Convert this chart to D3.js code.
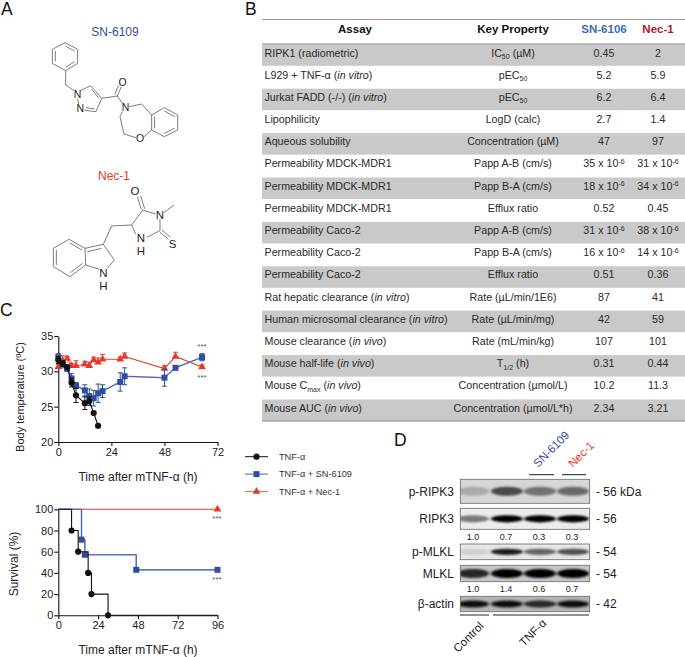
<!DOCTYPE html>
<html>
<head>
<meta charset="utf-8">
<script src="https://cdn.jsdelivr.net/npm/d3@7"></script>
<style>
  html, body { margin: 0; padding: 0; background: #fff; }
  svg { display: block; }
  text { font-family: "Liberation Sans", Arial, sans-serif; }
  .axis path, .axis line { stroke: #111; stroke-width: 1.1px; }
  .axis text { font-size: 11px; fill: #222; font-family: "Liberation Sans", Arial, sans-serif; }
</style>
</head>
<body>
<div id="chart"></div>
<script>
// table
const tableColumns = ["Assay", "Key Property", "SN-6106", "Nec-1"];
const assays = [
  "RIPK1 (radiometric)", "L929 + TNF-α (<i>in vitro</i>)", "Jurkat FADD (-/-) (<i>in vitro</i>)",
  "Lipophilicity", "Aqueous solubility", "Permeability MDCK-MDR1", "Permeability MDCK-MDR1",
  "Permeability MDCK-MDR1", "Permeability Caco-2", "Permeability Caco-2", "Permeability Caco-2",
  "Rat hepatic clearance (<i>in vitro</i>)", "Human microsomal clearance (<i>in vitro</i>)",
  "Mouse clearance (<i>in vivo</i>)", "Mouse half-life (<i>in vivo</i>)",
  "Mouse C<sub>max</sub> (<i>in vivo</i>)", "Mouse AUC (<i>in vivo</i>)"
];
const keyProperties = [
  "IC<sub>50</sub> (µM)", "pEC<sub>50</sub>", "pEC<sub>50</sub>", "LogD (calc)", "Concentration (µM)",
  "Papp A-B (cm/s)", "Papp B-A (cm/s)", "Efflux ratio", "Papp A-B (cm/s)", "Papp B-A (cm/s)", "Efflux ratio",
  "Rate (µL/min/1E6)", "Rate (µL/min/mg)", "Rate (mL/min/kg)", "T<sub>1/2</sub> (h)",
  "Concentration (µmol/L)", "Concentration (µmol/L*h)"
];
const sn6106Values = [
  "0.45", "5.2", "6.2", "2.7", "47", "35 x 10<sup>-6</sup>", "18 x 10<sup>-6</sup>", "0.52",
  "31 x 10<sup>-6</sup>", "16 x 10<sup>-6</sup>", "0.51", "87", "42", "107", "0.31", "10.2", "2.34"
];
const nec1Values = [
  "2", "5.9", "6.4", "1.4", "97", "31 x 10<sup>-6</sup>", "34 x 10<sup>-6</sup>", "0.45",
  "38 x 10<sup>-6</sup>", "14 x 10<sup>-6</sup>", "0.36", "41", "59", "101", "0.44", "11.3", "3.21"
];

// body temperature
const tempTimesTnf = [0, 2, 4, 6, 8, 12, 14, 16, 18];
const tempTnf = [31.6, 31.1, 30.6, 28.4, 26.6, 25.5, 25.8, 24.1, 22.3];
const tempTnfErr = [0.5, 0.4, 0.3, 0.6, 1.0, 0.9, 0.6, 0.2, 0.2];
const tempTimes = [0, 2, 4, 6, 8, 12, 14, 16, 18, 20, 28, 30, 48, 53, 65];
const tempSn = [32, 31, 30.4, 29, 28, 27.3, 26.5, 26.2, 26.9, 27.2, 28.5, 29.3, 29.1, 30.5, 32];
const tempSnErr = [0.5, 0.5, 0.4, 0.7, 0.4, 0.8, 1, 1.1, 1.3, 0.9, 1.3, 1.2, 1.2, 0.3, 0.5];
const tempNec = [30.6, 31.5, 31.8, 30.8, 30.8, 31, 30.8, 31.6, 31.3, 31.7, 31.7, 32.1, 30.4, 32.1, 30.6];
const tempNecErr = [0.4, 0.7, 0.3, 0.3, 0.7, 0.4, 0.5, 0.4, 0.6, 0.7, 0.3, 0.5, 0.4, 0.6, 0.3];

// survival
const survTimesTnf = [0, 8, 12, 18, 20, 30, 96];
const survTnf = [100, 80, 60, 40, 20, 0, 0];
const survTimesSn = [0, 14, 16, 47, 96];
const survSn = [100, 71.4, 57.1, 42.9, 42.9];
const survTimesNec = [0, 96];
const survNec = [100, 100];

// western blot
const blotRows = ["p-RIPK3", "RIPK3", "p-MLKL", "MLKL", "β-actin"];
const blotSizes = ["- 56 kDa", "- 56", "- 54", "- 54", "- 42"];
const blotPRipk3 = [0.22, 0.68, 0.5, 0.52];
const blotRipk3 = [0.45, 1, 1, 1];
const blotPMlkl = [0.04, 0.9, 0.55, 0.65];
const blotMlkl = [0.85, 1, 1, 1];
const blotActin = [0.95, 0.95, 0.85, 0.95];
const ripk3Ratios = ["1.0", "0.7", "0.3", "0.3"];
const mlklRatios = ["1.0", "1.4", "0.6", "0.7"];

// molecule drawings, bonds as [x1, y1, x2, y2] on a 3x grid of the panel
const sn6109Bonds = [
  [195,128,233,148],[233,148,233,190],[233,190,197,212],[197,212,157,190],[157,190,157,148],[157,148,195,128],
  [196,138,224,153],[224,185,197,202],[166,153,166,184],
  [197,212,197,255],[197,255,222,272],[241,272,272,257],[272,257,305,295],[275,268,297,295],[305,295,288,335],
  [288,335,254,331],[284,327,258,323],[233,296,236,312],
  [305,295,352,288],[352,288,364,260],[344,284,356,256],[352,288,368,311],
  [388,320,425,312],[425,312,455,345],[367,335,360,350],[360,350,372,402],[372,402,408,413],[432,410,455,390],
  [455,345,493,323],[493,323,533,345],[533,345,533,390],[533,390,493,410],[493,410,455,390],[455,390,455,345],
  [493,333,524,350],[524,385,493,400],[464,385,464,350]
];
const sn6109Atoms = [[233,284,"N"],[241,326,"N"],[368,247,"O"],[377,322,"N"],[420,415,"O"]];
const nec1Bonds = [
  [424,628,412,590],[434,626,422,588],[428,630,466,642],[428,630,395,675],[480,657,480,692],[480,692,440,712],
  [407,702,395,675],[492,638,522,615],[480,697,505,718],[486,690,510,711],
  [395,675,335,678],[335,678,310,733],
  [207,718,255,745],[255,745,257,795],[257,795,210,830],[210,830,160,800],[160,800,160,745],[160,745,207,718],
  [210,729,246,750],[248,790,211,818],[169,795,169,750],
  [255,745,310,733],[262,755,305,745],[310,733,343,780],[343,780,322,805],[298,808,257,795]
];
const nec1Atoms = [[405,572,"O"],[480,645,"N"],[518,733,"S"],[423,713,"N"],[423,753,"H"],[310,818,"N"],[310,858,"H"]];

const black = "#111", blue = "#2f4da3", red = "#e5392a", blueLight = "#8d9ed6", redLine = "#ee6a5c";

const width = 685, height = 657;
const svg = d3.select("#chart").append("svg").attr("width", width).attr("height", height);

// parse the small <i>/<sub>/<sup> markup into tspans
function richText(sel, str) {
  var parts = str.split(/(<\/?(?:i|sub|sup)>)/);
  var mode = null, pending = 0;
  parts.forEach(function (p) {
    if (p === "<i>") mode = "i";
    else if (p === "<sub>") mode = "sub";
    else if (p === "<sup>") mode = "sup";
    else if (p.indexOf("</") === 0) mode = null;
    else if (p) {
      var t = sel.append("tspan").text(p);
      var dy = pending;
      pending = 0;
      if (mode === "i") t.style("font-style", "italic");
      if (mode === "sub") { t.style("font-size", "7px"); dy += 2.5; pending = -2.5; }
      if (mode === "sup") { t.style("font-size", "7px"); dy += -3.5; pending = 3.5; }
      if (dy) t.attr("dy", dy);
    }
  });
}

// panel letters
[["A", 1, 15], ["B", 245, 15], ["C", 0, 316], ["D", 394, 446]].forEach(function (d) {
  svg.append("text").attr("x", d[1]).attr("y", d[2]).style("font-size", "17.5px").attr("fill", "#111").text(d[0]);
});

// ---- A: structures
const molX = d3.scaleLinear().domain([0, 3]).range([0, 1]);
function molecule(bonds, atoms, atomSize) {
  var g = svg.append("g");
  g.selectAll("line").data(bonds).enter().append("line")
    .attr("x1", d => molX(d[0])).attr("y1", d => molX(d[1]))
    .attr("x2", d => molX(d[2])).attr("y2", d => molX(d[3]))
    .attr("stroke", "#444").attr("stroke-width", 0.7);
  g.selectAll("text").data(atoms).enter().append("text")
    .attr("x", d => molX(d[0])).attr("y", d => molX(d[1])).attr("dy", "0.36em")
    .attr("text-anchor", "middle").style("font-size", atomSize).attr("fill", "#222")
    .text(d => d[2]);
}
molecule(sn6109Bonds, sn6109Atoms, "10.5px");
molecule(nec1Bonds, nec1Atoms, "11.5px");
svg.append("text").attr("x", 115).attr("y", 36).attr("text-anchor", "middle")
  .style("font-size", "12px").attr("fill", blue).text("SN-6109");
svg.append("text").attr("x", 114).attr("y", 180).attr("text-anchor", "middle")
  .style("font-size", "12px").attr("fill", red).text("Nec-1");

// ---- B: table
const rowY = d3.scaleBand().domain(d3.range(assays.length)).range([44.3, 421]).paddingInner(0.03);
const table = svg.append("g");
table.selectAll("rect").data(d3.range(assays.length).filter(i => i % 2 === 0)).enter().append("rect")
  .attr("x", 262).attr("width", 423).attr("y", d => rowY(d)).attr("height", rowY.bandwidth())
  .attr("fill", "#c9c9c9");
[[19.5, "#999"], [44, "#888"], [421, "#888"]].forEach(function (d) {
  table.append("line").attr("x1", 262).attr("x2", 685).attr("y1", d[0]).attr("y2", d[0])
    .attr("stroke", d[1]).attr("stroke-width", 1);
});
const headerX = [355, 513, 604, 658];
const headerFill = ["#111", "#111", "#3f6cb5", "#b5162b"];
tableColumns.forEach(function (c, i) {
  table.append("text").attr("x", headerX[i]).attr("y", 33).attr("text-anchor", "middle")
    .style("font-size", "11.5px").style("font-weight", "bold").attr("fill", headerFill[i]).text(c);
});
function tableColumn(values, x, anchor) {
  values.forEach(function (v, i) {
    var t = table.append("text").attr("x", x).attr("y", rowY(i) + 12.2).attr("text-anchor", anchor)
      .style("font-size", "10.7px").attr("fill", "#2a2a2a");
    richText(t, v);
  });
}
tableColumn(assays, 264.5, "start");
tableColumn(keyProperties, 513, "middle");
tableColumn(sn6106Values, 604, "middle");
tableColumn(nec1Values, 658, "middle");

// ---- C: line charts
const tempX = d3.scaleLinear().domain([0, 72]).range([58.3, 217.5]);
const tempY = d3.scaleLinear().domain([20, 35]).range([442, 336]);
const survX = d3.scaleLinear().domain([0, 96]).range([58.3, 217.5]);
const survY = d3.scaleLinear().domain([0, 100]).range([615.3, 509.3]);

function axes(x, y, xTicks, yTicks) {
  svg.append("g").attr("class", "axis").attr("transform", "translate(0," + y.range()[0] + ")")
    .call(d3.axisBottom(x).tickValues(xTicks).tickSize(4).tickSizeOuter(0).tickPadding(2));
  svg.append("g").attr("class", "axis").attr("transform", "translate(" + x.range()[0] + ",0)")
    .call(d3.axisLeft(y).tickValues(yTicks).tickSize(4).tickSizeOuter(0).tickPadding(1));
}
axes(tempX, tempY, [0, 24, 48, 72], [20, 25, 30, 35]);
axes(survX, survY, [0, 24, 48, 72, 96], [0, 20, 40, 60, 80, 100]);

function marker(sel, kind, color) {
  var sym = kind === "circle" ? d3.symbolCircle : kind === "square" ? d3.symbolSquare : d3.symbolTriangle;
  var size = kind === "circle" ? 30 : kind === "square" ? 36 : 26;
  sel.attr("d", d3.symbol().type(sym).size(size)).attr("fill", color);
}

function tempSeries(times, values, errs, color, halo, kind, upperOnly) {
  var pts = times.map((t, i) => ({ t: t, v: values[i], e: errs[i] }));
  var g = svg.append("g");
  if (halo) {
    g.append("path").datum(pts).attr("fill", "none").attr("stroke", halo).attr("stroke-width", 1.6)
      .attr("d", d3.line().x(d => tempX(d.t)).y(d => tempY(d.v)));
  }
  g.append("path").datum(pts).attr("fill", "none").attr("stroke", color).attr("stroke-width", halo ? 0.7 : 1.1)
    .attr("d", d3.line().x(d => tempX(d.t)).y(d => tempY(d.v)));
  var bars = g.selectAll(".err").data(pts).enter().append("g").attr("stroke", color).attr("stroke-width", 1);
  bars.append("line").attr("x1", d => tempX(d.t)).attr("x2", d => tempX(d.t))
    .attr("y1", d => tempY(upperOnly ? d.v : d.v - d.e)).attr("y2", d => tempY(d.v + d.e));
  bars.append("line").attr("x1", d => tempX(d.t) - 2.5).attr("x2", d => tempX(d.t) + 2.5)
    .attr("y1", d => tempY(d.v + d.e)).attr("y2", d => tempY(d.v + d.e));
  if (!upperOnly) {
    bars.append("line").attr("x1", d => tempX(d.t) - 2.5).attr("x2", d => tempX(d.t) + 2.5)
      .attr("y1", d => tempY(d.v - d.e)).attr("y2", d => tempY(d.v - d.e));
  }
  g.selectAll(".pt").data(pts).enter().append("path")
    .attr("transform", d => "translate(" + tempX(d.t) + "," + tempY(d.v) + ")")
    .call(marker, kind, color);
}
tempSeries(tempTimes, tempNec, tempNecErr, red, null, "triangle", true);
tempSeries(tempTimes, tempSn, tempSnErr, blue, blueLight, "square", false);
tempSeries(tempTimesTnf, tempTnf, tempTnfErr, black, null, "circle", false);

function survSeries(times, values, color, halo, kind, skipStart, skipEnd) {
  var pts = times.map((t, i) => ({ t: t, v: values[i] }));
  var line = d3.line().curve(d3.curveStepAfter).x(d => survX(d.t)).y(d => survY(d.v));
  var g = svg.append("g");
  if (halo) g.append("path").datum(pts).attr("fill", "none").attr("stroke", halo).attr("stroke-width", 1.6).attr("d", line);
  g.append("path").datum(pts).attr("fill", "none").attr("stroke", color).attr("stroke-width", halo ? 0.7 : 1.1).attr("d", line);
  g.selectAll(".pt").data(pts.slice(skipStart, pts.length - skipEnd)).enter().append("path")
    .attr("transform", d => "translate(" + survX(d.t) + "," + survY(d.v) + ")")
    .call(marker, kind, color);
}
survSeries(survTimesNec, survNec, red, null, "triangle", 1, 0);
survSeries(survTimesSn, survSn, blue, blueLight, "square", 1, 0);
survSeries(survTimesTnf, survTnf, black, null, "circle", 1, 1);

// axis titles
svg.append("text").attr("transform", "translate(24,397) rotate(-90)").attr("text-anchor", "middle")
  .style("font-size", "11px").attr("fill", "#222").text("Body temperature (ºC)");
svg.append("text").attr("transform", "translate(18,564) rotate(-90)").attr("text-anchor", "middle")
  .style("font-size", "12px").attr("fill", "#222").text("Survival (%)");
[481, 654].forEach(function (y) {
  svg.append("text").attr("x", 138).attr("y", y).attr("text-anchor", "middle")
    .style("font-size", "12px").attr("fill", "#222").text("Time after mTNF-α (h)");
});

// significance stars
[[202, 349], [202, 380], [217, 521], [217, 582]].forEach(function (d) {
  svg.append("text").attr("x", d[0]).attr("y", d[1]).attr("text-anchor", "middle")
    .style("font-size", "8px").attr("fill", "#555").text("***");
});

// legend
const legendSeries = ["TNF-α", "TNF-α + SN-6109", "TNF-α + Nec-1"];
const legendColor = [black, blueLight, redLine];
const legendMark = [["circle", black], ["square", blue], ["triangle", red]];
const legendY = d3.scalePoint().domain(legendSeries).range([456.7, 491.5]);
legendSeries.forEach(function (s, i) {
  svg.append("line").attr("x1", 245).attr("x2", 268).attr("y1", legendY(s)).attr("y2", legendY(s))
    .attr("stroke", legendColor[i]).attr("stroke-width", i === 1 ? 1.6 : 1);
  svg.append("path").attr("transform", "translate(256.5," + legendY(s) + ")")
    .call(marker, legendMark[i][0], legendMark[i][1]);
  svg.append("text").attr("x", 279).attr("y", legendY(s)).attr("dy", "0.35em")
    .style("font-size", "9.2px").attr("fill", "#333").text(s);
});

// ---- D: western blot
const defs = svg.append("defs");
defs.append("filter").attr("id", "soft").attr("x", "-30%").attr("y", "-80%").attr("width", "160%").attr("height", "260%")
  .append("feGaussianBlur").attr("stdDeviation", "1.4 1.1");
const lanes = [0, 1, 2, 3];
const laneX = d3.scalePoint().domain(lanes).range([473, 572]);
const bandDark = d3.scaleLinear().domain([0, 1]).range(["#d8d8d8", "#050505"]);
const blotPanels = [
  { vals: blotPRipk3, top: 479.3, bottom: 503.3, bg: "#d6d6d6", h: 4.5 },
  { vals: blotRipk3, top: 508.3, bottom: 529.3, bg: "#ececec", h: 3.6 },
  { vals: blotPMlkl, top: 544, bottom: 559.7, bg: "#e6e6e6", h: 3.2 },
  { vals: blotMlkl, top: 565.3, bottom: 581.7, bg: "#c6c6c6", h: 4.6 },
  { vals: blotActin, top: 596.3, bottom: 611.7, bg: "#b4b4b4", h: 3.4 }
];
const blot = svg.append("g");
blotPanels.forEach(function (p, r) {
  var clip = "clip" + r;
  defs.append("clipPath").attr("id", clip).append("rect")
    .attr("x", 460.3).attr("y", p.top).attr("width", 129.4).attr("height", p.bottom - p.top);
  var g = blot.append("g").attr("clip-path", "url(#" + clip + ")");
  g.append("rect").attr("x", 460.3).attr("y", p.top).attr("width", 129.4).attr("height", p.bottom - p.top).attr("fill", p.bg);
  g.selectAll("ellipse").data(p.vals).enter().append("ellipse")
    .attr("cx", (d, i) => laneX(i) + (i === 0 ? 0 : 1))
    .attr("cy", (p.top + p.bottom) / 2)
    .attr("rx", 16).attr("ry", p.h)
    .attr("fill", d => bandDark(d)).attr("filter", "url(#soft)");
  blot.append("rect").attr("x", 460.3).attr("y", p.top).attr("width", 129.4).attr("height", p.bottom - p.top)
    .attr("fill", "none").attr("stroke", "#666").attr("stroke-width", 0.8);
  blot.append("text").attr("x", 454).attr("y", (p.top + p.bottom) / 2).attr("dy", "0.36em").attr("text-anchor", "end")
    .style("font-size", "12px").attr("fill", "#222").text(blotRows[r]);
  blot.append("text").attr("x", 596).attr("y", (p.top + p.bottom) / 2).attr("dy", "0.36em")
    .style("font-size", "12px").attr("fill", "#222").text(blotSizes[r]);
});
function ratios(values, y) {
  blot.selectAll(null).data(values).enter().append("text")
    .attr("x", (d, i) => laneX(i)).attr("y", y).attr("dy", "0.36em").attr("text-anchor", "middle")
    .style("font-size", "9px").attr("fill", "#222").text(d => d);
}
ratios(ripk3Ratios, 536.7);
ratios(mlklRatios, 588.7);

[[529, 554, 474.7], [562, 586, 474.7], [460, 489, 615], [493, 589, 615]].forEach(function (d) {
  blot.append("line").attr("x1", d[0]).attr("x2", d[1]).attr("y1", d[2]).attr("y2", d[2])
    .attr("stroke", "#222").attr("stroke-width", 1);
});
[["SN-6109", 538, 468, blue], ["Nec-1", 573, 468, red], ["Control", 458, 653, "#222"], ["TNF-α", 524, 647, "#222"]].forEach(function (d) {
  blot.append("text").attr("transform", "translate(" + d[1] + "," + d[2] + ") rotate(-45)")
    .style("font-size", "11.5px").attr("fill", d[3]).text(d[0]);
});
</script>
</body>
</html>
